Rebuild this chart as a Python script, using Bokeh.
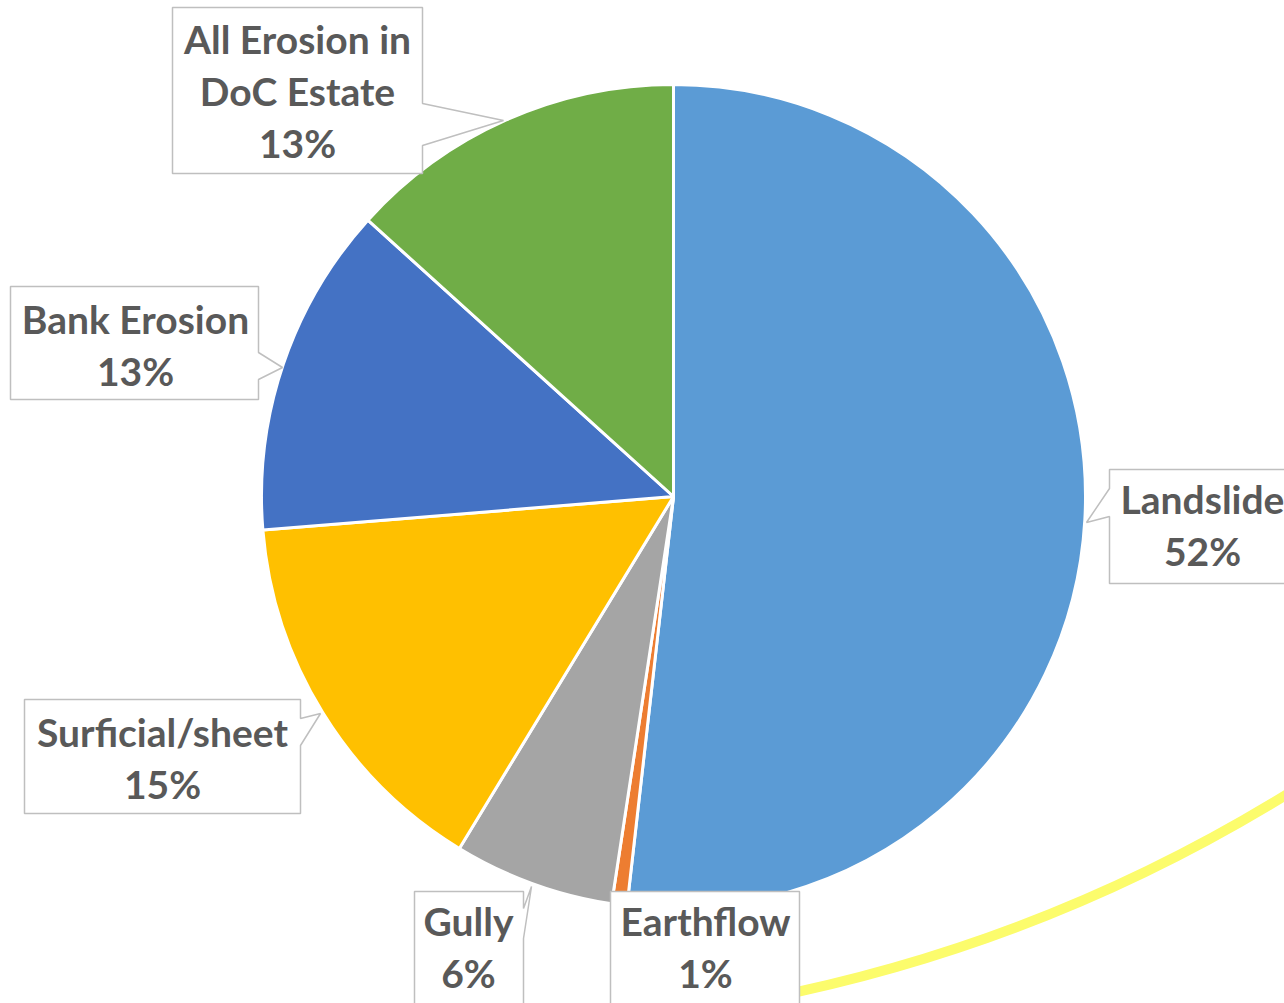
import math
from bokeh.plotting import figure
from bokeh.models import Range1d
from bokeh.core.properties import value
from bokeh.embed import file_html
from bokeh.resources import INLINE

# ---- data ----
categories = ["Landslide", "Earthflow", "Gully", "Surficial/sheet", "Bank Erosion", "All Erosion in\nDoC Estate"]
shares = [51.8, 0.6, 6.3, 15.0, 13.0, 13.3]
colors = ["#5B9BD5", "#ED7D31", "#A5A5A5", "#FFC000", "#4472C4", "#70AD47"]

W, H = 1284, 1003
def Y(sy):
    return H - sy

p = figure(width=W, height=H, output_backend="svg", toolbar_location=None,
           x_range=Range1d(0, W), y_range=Range1d(0, H), min_border=0)
p.axis.visible = False
p.grid.visible = False
p.outline_line_color = None
p.background_fill_color = "white"
p.border_fill_color = "white"

# decorative yellow arc (background)
p.arc(x=[459], y=[Y(-551)], radius=1579,
      start_angle=math.atan2(Y(1000) - Y(-551), 760 - 459),
      end_angle=math.atan2(Y(790) - Y(-551), 1290 - 459),
      line_color="#FCFC6C", line_width=10)

# ---- pie ----
cx, cy, r = 673, Y(496), 412
total = sum(shares)
cum = 0.0
starts, ends = [], []
for v in shares:
    a0 = math.pi / 2 - 2 * math.pi * cum / total
    cum += v
    a1 = math.pi / 2 - 2 * math.pi * cum / total
    starts.append(a0)
    ends.append(a1)
p.wedge(x=[cx] * len(shares), y=[cy] * len(shares), radius=r,
        start_angle=starts, end_angle=ends, direction="clock",
        fill_color=colors, line_color="white", line_width=3)

# ---- callouts (layout) ----
callout_shapes = [
    [(1109, 469), (1300, 469), (1300, 583), (1109, 583), (1109, 516), (1086, 522), (1109, 488)],
    [(610, 891), (799, 891), (799, 1010), (610, 1010)],
    [(414, 891), (523, 891), (523, 908), (531, 886), (523, 938), (523, 1010), (414, 1010)],
    [(24, 699), (300, 699), (300, 718), (320, 713), (300, 745), (300, 813), (24, 813)],
    [(10, 286), (258, 286), (258, 352), (282, 367), (258, 379), (258, 399), (10, 399)],
    [(172, 7), (422, 7), (422, 103), (503, 120), (422, 145), (422, 173), (172, 173)],
]
text_pos = [(1202, 498), (705, 920), (468, 920), (162, 731), (135, 318), (297, 38)]
line_step = 52

xs = [[pt[0] for pt in s] for s in callout_shapes]
ys = [[Y(pt[1]) for pt in s] for s in callout_shapes]
p.patches(xs=xs, ys=ys, fill_color="white", line_color="#BFBFBF", line_width=1.5)

tx, ty, tt = [], [], []
for cat, v, (x0, y0) in zip(categories, shares, text_pos):
    lines = cat.split("\n") + [f"{round(v / total * 100)}%"]
    for i, ln in enumerate(lines):
        tx.append(x0)
        ty.append(Y(y0 + i * line_step))
        tt.append(ln)
p.text(x=tx, y=ty, text=tt, text_align="center", text_baseline="middle",
       text_font=value("Lato"), text_font_style="bold", text_font_size="39px",
       text_color="#595959")

open("out.html", "w").write(file_html(p, INLINE))
